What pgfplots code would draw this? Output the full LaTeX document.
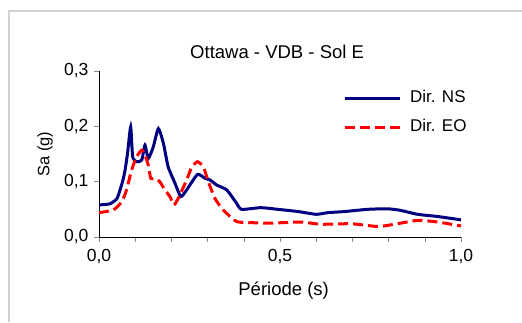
\documentclass[border=0pt]{standalone}
\usepackage{pgfplots}
\pgfplotsset{compat=1.18}
\usepackage{fontspec}
\setmainfont{Liberation Sans}
\definecolor{navyNS}{RGB}{0,0,128}
\begin{document}
\begin{tikzpicture}[x=1pt,y=1pt]
\useasboundingbox (0,0) rectangle (522,322);
\draw[black!18, line width=1.2pt] (9,0) -- (9,311) -- (522,311);
\begin{axis}[
  at={(99pt,85pt)}, anchor=south west,
  scale only axis, width=362pt, height=166pt,
  xmin=0, xmax=1, ymin=0, ymax=0.3,
  axis x line*=bottom, axis y line*=left,
  axis line style={black, line width=0.8pt},
  xtick={0,0.5,1}, minor xtick={0.1,0.2,0.3,0.4,0.6,0.7,0.8,0.9},
  ytick={0,0.1,0.2,0.3},
  tick align=outside, major tick length=5pt, minor tick length=5pt,
  tick style={black!45, line width=0.6pt},
  /pgf/number format/assume math mode=true,
  /pgf/number format/.cd, fixed, fixed zerofill, precision=1, use comma, /pgfplots/.cd,
  tick label style={font=\fontsize{17.5}{20}\selectfont},
  xticklabel style={yshift=-4pt},
  yticklabel style={xshift=-2pt},
  title={Ottawa - VDB - Sol E},
  title style={font=\fontsize{18.5}{21}\selectfont, at={(axis description cs:0.492,1.078)}, anchor=center},
  xlabel={Période (s)},
  xlabel style={font=\fontsize{18.5}{21}\selectfont, at={(axis description cs:0.51,-0.325)}, anchor=center},
  ylabel={Sa (g)},
  ylabel style={font=\fontsize{16.5}{19}\selectfont, at={(axis description cs:-0.149,0.5)}, anchor=center, rotate=0},
  legend style={draw=none, fill=none, at={(axis description cs:0.674,0.870)}, anchor=north west,
    inner sep=0pt, row sep=17pt, column sep=9pt,
    font=\fontsize{17}{20}\selectfont,
    nodes={inner sep=0pt, text height=10pt, text depth=2pt}},
  legend cell align=left,
  legend image code/.code={\draw[#1] (0pt,0pt) -- (55pt,0pt);},
]
\addplot[navyNS, line width=3pt, smooth, tension=0.35] coordinates {
(0,0.058) (0.03,0.060) (0.05,0.070) (0.065,0.100) (0.072,0.121) (0.079,0.152) (0.0875,0.199) (0.093,0.145) (0.104,0.136) (0.118,0.139) (0.127,0.166) (0.136,0.142) (0.15,0.163) (0.164,0.196) (0.178,0.169) (0.191,0.127) (0.21,0.097) (0.226,0.073) (0.242,0.085) (0.272,0.113) (0.293,0.106) (0.307,0.103) (0.325,0.094) (0.353,0.085) (0.38,0.061) (0.394,0.050) (0.447,0.053) (0.494,0.050) (0.55,0.046) (0.6,0.041) (0.632,0.044) (0.678,0.046) (0.742,0.050) (0.797,0.051) (0.834,0.048) (0.88,0.041) (0.936,0.037) (1.0,0.031)
};
\addlegendentry{Dir. NS}
\addplot[red, line width=3pt, dash pattern=on 10pt off 5pt, smooth, tension=0.35] coordinates {
(0,0.044) (0.04,0.049) (0.063,0.064) (0.076,0.085) (0.09,0.121) (0.104,0.145) (0.118,0.157) (0.127,0.148) (0.136,0.130) (0.143,0.106) (0.155,0.106) (0.168,0.100) (0.182,0.085) (0.196,0.073) (0.207,0.058) (0.219,0.070) (0.242,0.103) (0.256,0.126) (0.272,0.136) (0.288,0.127) (0.302,0.100) (0.320,0.070) (0.343,0.049) (0.38,0.028) (0.42,0.026) (0.47,0.025) (0.558,0.027) (0.613,0.023) (0.696,0.024) (0.77,0.019) (0.816,0.023) (0.88,0.030) (0.936,0.027) (1.0,0.020)
};
\addlegendentry{Dir. EO}
\end{axis}
\end{tikzpicture}
\end{document}
